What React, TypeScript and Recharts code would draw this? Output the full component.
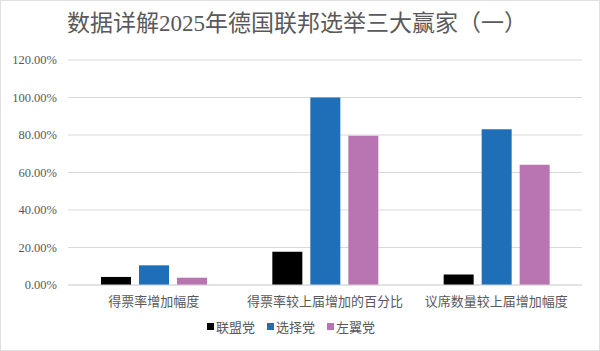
import React from "react";
import { BarChart, Bar, XAxis, YAxis, CartesianGrid, Legend } from "recharts";

const categories = ["得票率增加幅度", "得票率较上届增加的百分比", "议席数量较上届增加幅度"];
const unionValues = [4.3, 17.8, 5.6];
const afdValues = [10.5, 100, 83.1];
const linkeValues = [3.9, 79.6, 64.1];
const yTicks = [0, 20, 40, 60, 80, 100, 120];
const seriesNames = ["联盟党", "选择党", "左翼党"];
const seriesColors = ["#000000", "#1F6FB8", "#B974B2"];

const data = categories.map((c, i) => ({
  name: c,
  union: unionValues[i],
  afd: afdValues[i],
  linke: linkeValues[i],
}));

const FONT = '"Liberation Serif", "Noto Sans CJK SC", serif';

const LegendContent = () => (
  <div style={{ display: "flex", justifyContent: "center", gap: 12, fontFamily: FONT, fontSize: 13, color: "#595959" }}>
    {seriesNames.map((n, i) => (
      <span key={n} style={{ display: "inline-flex", alignItems: "center" }}>
        <span style={{ width: 7, height: 7, background: seriesColors[i], display: "inline-block", marginRight: 2 }} />
        {n}
      </span>
    ))}
  </div>
);

export default function App() {
  return (
    <div style={{ position: "absolute", left: 0, top: 0, width: 600, height: 351, background: "#fff", boxSizing: "border-box", border: "1px solid #e0e0e0" }}>
      <div style={{ position: "absolute", left: 0, top: 8, width: 592, textAlign: "center", fontFamily: FONT, fontSize: 23, color: "#595959", lineHeight: "30px" }}>
        数据详解2025年德国联邦选举三大赢家（一）
      </div>
      <div style={{ position: "absolute", left: -1, top: -1 }}>
        <BarChart width={600} height={351} data={data} margin={{ top: 60, right: 18, left: 0, bottom: 6 }} barCategoryGap="19%" barGap={8}>
          <CartesianGrid vertical={false} stroke="#d9d9d9" />
          <XAxis dataKey="name" tickLine={false} axisLine={{ stroke: "#d9d9d9" }} tickSize={0} tickMargin={12} height={32}
            tick={{ fontFamily: FONT, fontSize: 13, fill: "#595959" }} interval={0} />
          <YAxis domain={[0, 120]} ticks={yTicks} tickFormatter={(v: number) => v.toFixed(2) + "%"} width={68}
            axisLine={false} tickLine={false} tickSize={0} tickMargin={11}
            tick={{ fontFamily: FONT, fontSize: 12.5, fill: "#595959" }} />
          <Legend verticalAlign="bottom" height={28} content={<LegendContent />} />
          <Bar dataKey="union" name={seriesNames[0]} fill={seriesColors[0]} barSize={30} isAnimationActive={false} />
          <Bar dataKey="afd" name={seriesNames[1]} fill={seriesColors[1]} barSize={30} isAnimationActive={false} />
          <Bar dataKey="linke" name={seriesNames[2]} fill={seriesColors[2]} barSize={30} isAnimationActive={false} />
        </BarChart>
      </div>
    </div>
  );
}
